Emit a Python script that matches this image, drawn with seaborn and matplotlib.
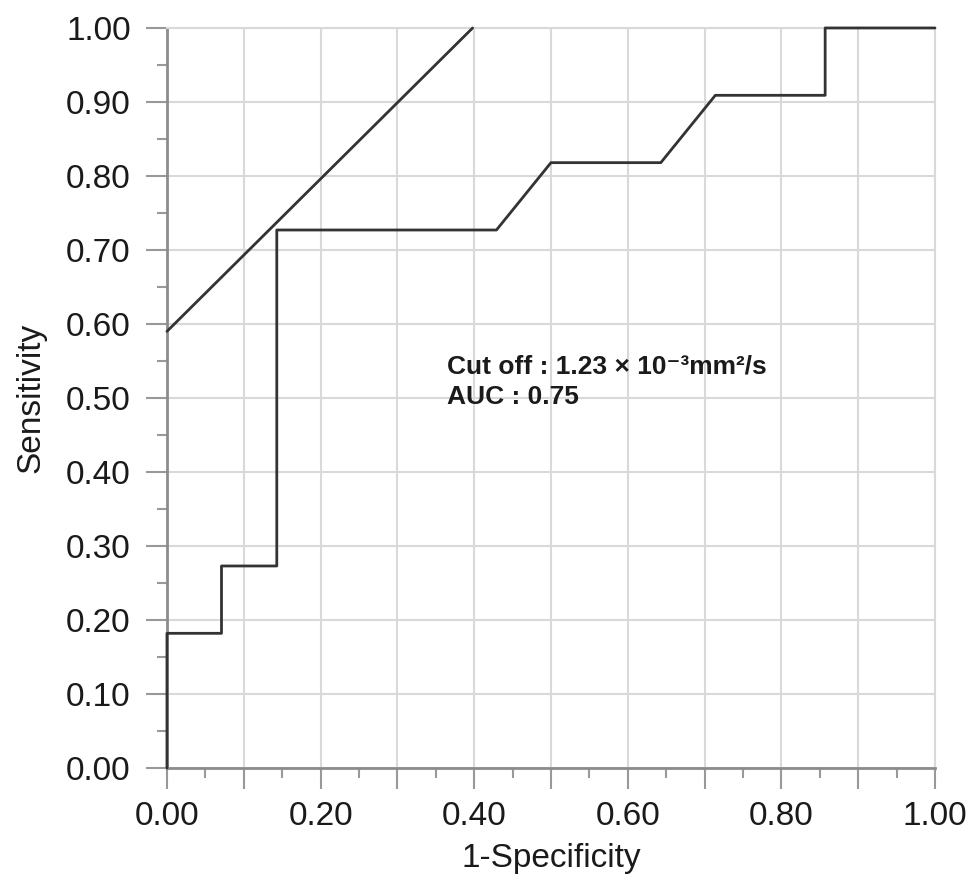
import numpy as np
import matplotlib
matplotlib.use('Agg')
import matplotlib.pyplot as plt
import seaborn as sns

# ROC curve points
fpr = [0.0, 0.0, 0.071, 0.071, 0.143, 0.143, 0.429, 0.500, 0.643, 0.714, 0.857, 0.857, 1.0]
tpr = [0.0, 0.182, 0.182, 0.273, 0.273, 0.727, 0.727, 0.818, 0.818, 0.909, 0.909, 1.0, 1.0]

# tangent line at the cut off point
tan_x = [0.0, 0.398]
tan_y = [0.59, 1.0]

x_ticks = [0.0, 0.1, 0.2, 0.3, 0.4, 0.5, 0.6, 0.7, 0.8, 0.9, 1.0]
x_labels = ['0.00', '', '0.20', '', '0.40', '', '0.60', '', '0.80', '', '1.00']
y_ticks = [0.0, 0.1, 0.2, 0.3, 0.4, 0.5, 0.6, 0.7, 0.8, 0.9, 1.0]
y_labels = ['0.00', '0.10', '0.20', '0.30', '0.40', '0.50', '0.60', '0.70', '0.80', '0.90', '1.00']

sns.set_theme(style='whitegrid')
plt.rcParams['font.family'] = ['Liberation Sans', 'DejaVu Sans']

fig = plt.figure(figsize=(9.69, 8.85), dpi=100)
ax = fig.add_axes([0.1723, 0.1322, 0.7926, 0.8362])

sns.lineplot(x=fpr, y=tpr, estimator=None, sort=False, color='#333333', linewidth=2, ax=ax)
sns.lineplot(x=tan_x, y=tan_y, estimator=None, sort=False, color='#333333', linewidth=2, ax=ax)
for line in ax.lines:
    line.set_clip_on(False)
    line.set_zorder(3)

ax.set_xlim(0, 1)
ax.set_ylim(0, 1)
ax.set_xticks(x_ticks)
ax.set_xticklabels(x_labels)
ax.set_yticks(y_ticks)
ax.set_yticklabels(y_labels)
ax.set_xticks(np.arange(0.05, 1.0, 0.1), minor=True)
ax.set_yticks(np.arange(0.05, 1.0, 0.1), minor=True)

ax.grid(True, which='major', color='#d9d9d9', linewidth=1.5)
ax.grid(False, which='minor')
ax.tick_params(which='major', direction='out', length=15, width=1.5, color='#999999',
               labelsize=24, pad=9, labelcolor='#1a1a1a', bottom=True, left=True)
ax.tick_params(which='minor', direction='out', length=7, width=1.5, color='#999999',
               bottom=True, left=True)
ax.tick_params(axis='y', which='major', pad=11)

for side in ['top', 'right']:
    ax.spines[side].set_color('#d9d9d9')
    ax.spines[side].set_linewidth(1.5)
for side in ['left', 'bottom']:
    ax.spines[side].set_color('#8c8c8c')
    ax.spines[side].set_linewidth(2)

ax.set_xlabel('1-Specificity', fontsize=24, color='#1a1a1a', labelpad=8)
ax.set_ylabel('Sensitivity', fontsize=24, color='#1a1a1a', labelpad=14)

ax.text(0.365, 0.542, 'Cut off : 1.23 × 10⁻³mm²/s', fontsize=19, fontweight='bold',
        color='#1a1a1a', va='center', ha='left')
ax.text(0.365, 0.502, 'AUC : 0.75', fontsize=19, fontweight='bold',
        color='#1a1a1a', va='center', ha='left')

fig.savefig('out.png', dpi=100)
